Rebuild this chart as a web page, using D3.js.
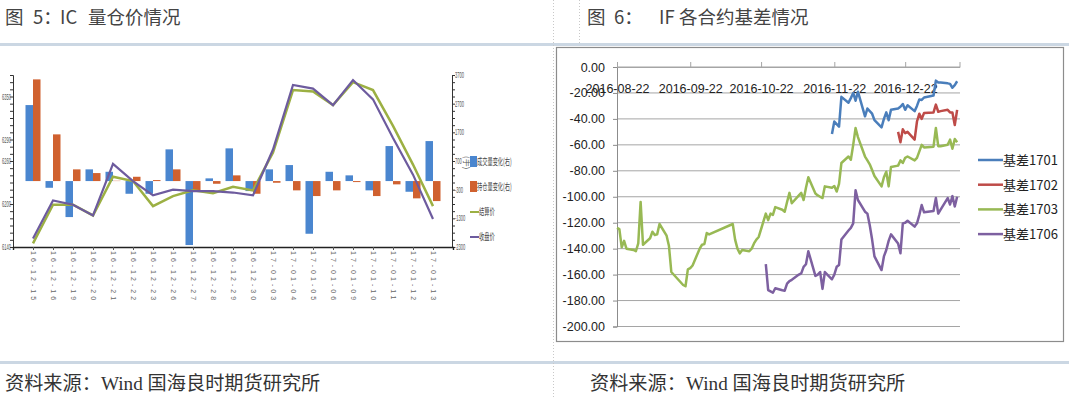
<!DOCTYPE html>
<html>
<head>
<meta charset="utf-8">
<script src="https://cdn.jsdelivr.net/npm/d3@7"></script>
<style>
body { margin: 0; background: #fff; }
svg { display: block; font-family: "Liberation Sans", Arial, sans-serif; }
</style>
</head>
<body>
<div id="chart"></div>
<script>
// ---- figure 5 : IC volume / open interest / price ----
const icDates = ["16-12-15","16-12-16","16-12-19","16-12-20","16-12-21","16-12-22","16-12-23",
  "16-12-26","16-12-27","16-12-28","16-12-29","16-12-30","17-01-03","17-01-04","17-01-05",
  "17-01-06","17-01-09","17-01-10","17-01-11","17-01-12","17-01-13"];
const icVolChg = [2651,-234,-1256,408,324,-443,-443,1106,-2232,94,1141,-349,408,558,-1838,324,199,-324,1221,-373,1395];
const icOiChg = [3547,1629,408,279,10,150,35,408,-349,-94,199,-443,-59,-324,-523,-324,-35,-523,-115,-603,-698];
const icSettle = [6145,6199,6199,6184,6238,6232,6197,6211,6219,6215,6224,6219,6272,6359,6357,6338,6370,6359,6309,6255,6197];
const icClose = [6152,6205,6199,6184,6256,6232,6212,6220,6218,6218,6216,6212,6276,6366,6361,6338,6373,6346,6292,6241,6179];
const icLeftTicks = [6140,6200,6260,6290,6350];
const icRightTicks = [-2300,-1300,-300,700,1700,2700,3700];
const icLegend = ["成交量变化(右)","持仓量变化(右)","结算价","收盘价"];

// ---- figure 6 : IF basis ----
const tradeDates = ["2016-08-22","2016-08-23","2016-08-24","2016-08-25","2016-08-26",
  "2016-08-29","2016-08-30","2016-08-31","2016-09-01","2016-09-02",
  "2016-09-05","2016-09-06","2016-09-07","2016-09-08","2016-09-09",
  "2016-09-12","2016-09-13","2016-09-14",
  "2016-09-19","2016-09-20","2016-09-21","2016-09-22","2016-09-23",
  "2016-09-26","2016-09-27","2016-09-28","2016-09-29","2016-09-30",
  "2016-10-10","2016-10-11","2016-10-12","2016-10-13","2016-10-14",
  "2016-10-17","2016-10-18","2016-10-19","2016-10-20","2016-10-21",
  "2016-10-24","2016-10-25","2016-10-26","2016-10-27","2016-10-28",
  "2016-10-31","2016-11-01","2016-11-02","2016-11-03","2016-11-04",
  "2016-11-07","2016-11-08","2016-11-09","2016-11-10","2016-11-11",
  "2016-11-14","2016-11-15","2016-11-16","2016-11-17","2016-11-18",
  "2016-11-21","2016-11-22","2016-11-23","2016-11-24","2016-11-25",
  "2016-11-28","2016-11-29","2016-11-30","2016-12-01","2016-12-02",
  "2016-12-05","2016-12-06","2016-12-07","2016-12-08","2016-12-09",
  "2016-12-12","2016-12-13","2016-12-14","2016-12-15","2016-12-16",
  "2016-12-19","2016-12-20","2016-12-21","2016-12-22","2016-12-23",
  "2016-12-26","2016-12-27","2016-12-28","2016-12-29","2016-12-30",
  "2017-01-03","2017-01-04","2017-01-05","2017-01-06",
  "2017-01-09","2017-01-10","2017-01-11","2017-01-12","2017-01-13"];
// each series ends on the last trade date
const basis1701 = [-51.6,-42,-44,-46,-23, -27.5,-24,-20,-26,-19, -38,-32,-34,-36,-41,
  -46.5,-40,-35,-41,-33, -32,-30.6,-28.5,-33,-29.5, -34,-30,-25,-25.4,-23.5,
  -22,-10.5,-12,-12, -12.6,-13,-16,-14,-11];
const basis1702 = [-50,-58,-48,-51,-50, -56,-42,-36,-40,-35.5, -35,-29,-34.5,-34, -33,-35,-35,-44.7,-33];
const basis1703 = [-124,-125,-139,-134,-140, -141,-142,-136,-104,-137, -132,-127,-129.5,-129,-121,
  -130,-138,-158, -168,-169,-156,-155,-153, -140,-137,-136.5,-128,-129,
  -121,-133,-140,-143.6,-141, -142,-140,-136,-133,-131, -113,-118,-113,-114,-108,
  -110,-111.5,-104,-97,-105, -99,-97,-102.5,-93,-85, -97.5,-99,-100,-101,-92,
  -93,-91.7,-96,-90,-74, -69,-71.5,-60,-47,-54, -69,-72,-75,-79.4,-84,
  -92,-85,-80.7,-92,-77, -76,-72,-74,-70,-69, -72,-70,-65,-60,-62,
  -61.4,-47,-61,-61, -60,-56,-63,-55.5,-58];
const basis1706 = [-152,-172,-173,-174,-170.5, -172,-172.4,-167,-165,-164, -160,-159,-154,-152,-142,
  -161,-160,-158,-171,-158, -163.6,-160,-154,-152.6,-133, -126,-124,-120.5,-95,-102.5,
  -111.5,-113,-122,-133,-146, -156.5,-146,-141,-134,-129, -136,-143.6,-120.5,-120,-118.5,
  -123,-120.5,-114,-106.4,-112, -111,-101,-113,-110, -101,-106,-99.5,-107.5,-100];
const basisNames = ["基差1701","基差1702","基差1703","基差1706"];
const basisTicks = ["2016-08-22","2016-09-22","2016-10-22","2016-11-22","2016-12-22"];

const W = 1069, H = 399;
const svg = d3.select("#chart").append("svg").attr("width", W).attr("height", H);

// ---- page furniture ----
const cjk = '"Noto Sans CJK SC", sans-serif';
function title(parts) {
  const t = svg.append("text").attr("y", 24).attr("font-family", cjk).attr("font-size", 18.5).attr("fill", "#444");
  parts.forEach(p => t.append("tspan").attr("x", p[0]).text(p[1]));
}
title([[5, "图"], [33, "5："], [60, "IC"], [88, "量仓价情况"]]);
title([[587, "图"], [614, "6："], [659, "IF"], [679, "各合约基差情况"]]);
svg.append("rect").attr("x", 0).attr("y", 43).attr("width", W).attr("height", 3).attr("fill", "#cbd7e3");
svg.append("rect").attr("x", 0).attr("y", 361).attr("width", W).attr("height", 3).attr("fill", "#cbd7e3");
svg.append("line").attr("x1", 553.5).attr("x2", 553.5).attr("y1", 0).attr("y2", H)
  .attr("stroke", "#c8c8c8").attr("stroke-dasharray", "1,2");
svg.append("line").attr("x1", 579.5).attr("x2", 579.5).attr("y1", 0).attr("y2", 43)
  .attr("stroke", "#c8c8c8").attr("stroke-dasharray", "1,2");
[5, 590].forEach(function (x0) {
  const g = svg.append("text").attr("x", x0).attr("y", 390).attr("font-size", 19.2)
    .attr("fill", "#333").attr("font-family", cjk);
  g.append("tspan").text("资料来源：");
  g.append("tspan").attr("font-family", '"Liberation Serif", serif').text("Wind ");
  g.append("tspan").text("国海良时期货研究所");
});

// ---- left chart ----
const xL = d3.scalePoint().domain(icDates).range([13, 453]).padding(1);
const yL = d3.scaleLinear().domain([6140, 6380]).range([247, 75]);
const yR = d3.scaleLinear().domain([-2300, 3700]).range([247, 75]);
const bw = 7.5;
const lg = svg.append("g");

lg.selectAll(".bv").data(icVolChg).enter().append("rect")
  .attr("x", (d, i) => xL(icDates[i]) - bw)
  .attr("y", d => yR(Math.max(0, d)))
  .attr("width", bw)
  .attr("height", d => Math.abs(yR(d) - yR(0)))
  .attr("fill", "#4a86cf");
lg.selectAll(".bo").data(icOiChg).enter().append("rect")
  .attr("x", (d, i) => xL(icDates[i]))
  .attr("y", d => yR(Math.max(0, d)))
  .attr("width", bw)
  .attr("height", d => Math.abs(yR(d) - yR(0)))
  .attr("fill", "#d0612f");

const lineL = d3.line().x((d, i) => xL(icDates[i])).y(d => yL(d));
lg.append("path").datum(icSettle).attr("d", lineL).attr("fill", "none")
  .attr("stroke", "#9cb043").attr("stroke-width", 2.5);
lg.append("path").datum(icClose).attr("d", lineL).attr("fill", "none")
  .attr("stroke", "#6d5b9e").attr("stroke-width", 2.2);

// left axis
const axL = lg.append("g").attr("transform", "translate(13,0)")
  .call(d3.axisLeft(yL).tickValues(d3.range(6140, 6381, 10)).tickSize(3).tickFormat(""));
axL.select(".domain").attr("stroke", "#333");
axL.selectAll(".tick line").attr("stroke", "#333");
lg.selectAll(".ll").data(icLeftTicks).enter().append("text")
  .attr("transform", d => "translate(11," + (yL(d) + 3) + ") scale(0.45,1)")
  .attr("text-anchor", "end").attr("font-size", 9).attr("fill", "#555").text(d => d);

// right axis
const axR = lg.append("g").attr("transform", "translate(452,0)")
  .call(d3.axisRight(yR).tickValues(d3.range(-2300, 3701, 250)).tickSize(3).tickFormat(""));
axR.select(".domain").attr("stroke", "#333");
axR.selectAll(".tick line").attr("stroke", "#333");
lg.selectAll(".rl").data(icRightTicks).enter().append("text")
  .attr("transform", d => "translate(455," + (yR(d) + 3) + ") scale(0.45,1)")
  .attr("font-size", 9).attr("fill", "#555").text(d => d);

// x axis
const axX = lg.append("g").attr("transform", "translate(0,247)")
  .call(d3.axisBottom(xL).tickSize(3).tickFormat(""));
axX.select(".domain").attr("stroke", "#222").attr("stroke-width", 1.4);
axX.selectAll(".tick line").attr("stroke", "#555");
lg.selectAll(".xl").data(icDates).enter().append("text")
  .attr("transform", d => "translate(" + (xL(d) - 2) + ",251) rotate(90)")
  .attr("font-size", 7).attr("letter-spacing", 3).attr("fill", "#666").text(d => d);

// unit label and legend
lg.append("text").attr("transform", "translate(464,156) rotate(90)").attr("font-family", cjk)
  .attr("font-size", 8).attr("fill", "#555").text("(手)");
const legL = lg.selectAll(".lgl").data(icLegend).enter().append("g")
  .attr("transform", (d, i) => "translate(470," + (162 + i * 25) + ")");
legL.each(function (d, i) {
  const g = d3.select(this);
  if (i < 2) g.append("rect").attr("x", 0).attr("y", -6).attr("width", 7).attr("height", 11)
    .attr("fill", i ? "#d0612f" : "#4a86cf");
  else g.append("line").attr("x1", 0).attr("x2", 9).attr("y1", 0).attr("y2", 0)
    .attr("stroke", i === 2 ? "#9cb043" : "#6d5b9e").attr("stroke-width", 2);
  g.append("text").attr("transform", "translate(" + (i < 2 ? 7 : 9) + ",3) scale(0.55,1)")
    .attr("font-family", cjk).attr("font-size", 9.5).attr("fill", "#444").text(d);
});

// ---- right chart ----
const parse = d3.timeParse("%Y-%m-%d");
const xB = d3.scaleTime().domain([parse("2016-08-22"), parse("2017-01-14")]).range([617, 959.5]);
const yB = d3.scaleLinear().domain([-200, 0]).range([326.5, 67]);
const rg = svg.append("g");

rg.append("rect").attr("x", 556.5).attr("y", 47.5).attr("width", 507).attr("height", 294)
  .attr("fill", "none").attr("stroke", "#8c8c8c").attr("stroke-width", 1.2);

rg.selectAll(".grid").data(d3.range(-200, 1, 20)).enter().append("line")
  .attr("x1", 617).attr("x2", 960).attr("y1", d => yB(d)).attr("y2", d => yB(d))
  .attr("stroke", "#a5a5a5").attr("stroke-width", 1);

const axB = rg.append("g").attr("transform", "translate(617,0)")
  .call(d3.axisLeft(yB).tickValues(d3.range(-200, 1, 20)).tickSize(4).tickFormat(d => d.toFixed(2)));
axB.select(".domain").attr("stroke", "#8c8c8c");
axB.selectAll(".tick line").attr("stroke", "#8c8c8c");
axB.selectAll("text").attr("font-size", 12.5).attr("fill", "#222").attr("x", -12);

const axT = rg.append("g").attr("transform", "translate(0," + yB(0) + ")")
  .call(d3.axisTop(xB).tickValues(basisTicks.map(parse)).tickSize(5).tickFormat(d3.timeFormat("%Y-%m-%d")));
axT.select(".domain").attr("stroke", "#a5a5a5");
axT.selectAll(".tick line").attr("stroke", "#a5a5a5");
axT.selectAll("text").attr("font-size", 12.5).attr("fill", "#222").attr("y", 26);

const series = [basis1701, basis1702, basis1703, basis1706];
const colors = ["#4a7ebb", "#be4b48", "#98b954", "#7d60a0"];
const lineB = d3.line().x(d => xB(d[0])).y(d => yB(d[1]));
series.forEach(function (vals, k) {
  const dates = tradeDates.slice(tradeDates.length - vals.length).map(parse);
  rg.append("path").datum(vals.map((v, i) => [dates[i], v])).attr("d", lineB)
    .attr("fill", "none").attr("stroke", colors[k]).attr("stroke-width", 2.5)
    .attr("stroke-linejoin", "round");
});

const legB = rg.selectAll(".lgb").data(basisNames).enter().append("g")
  .attr("transform", (d, i) => "translate(978," + (160 + i * 24.7) + ")");
legB.append("line").attr("x1", 0).attr("x2", 25).attr("stroke", (d, i) => colors[i]).attr("stroke-width", 2.5);
legB.append("text").attr("x", 25).attr("y", 5).attr("font-size", 13).attr("fill", "#222")
  .attr("font-family", cjk).text(d => d);
</script>
</body>
</html>
